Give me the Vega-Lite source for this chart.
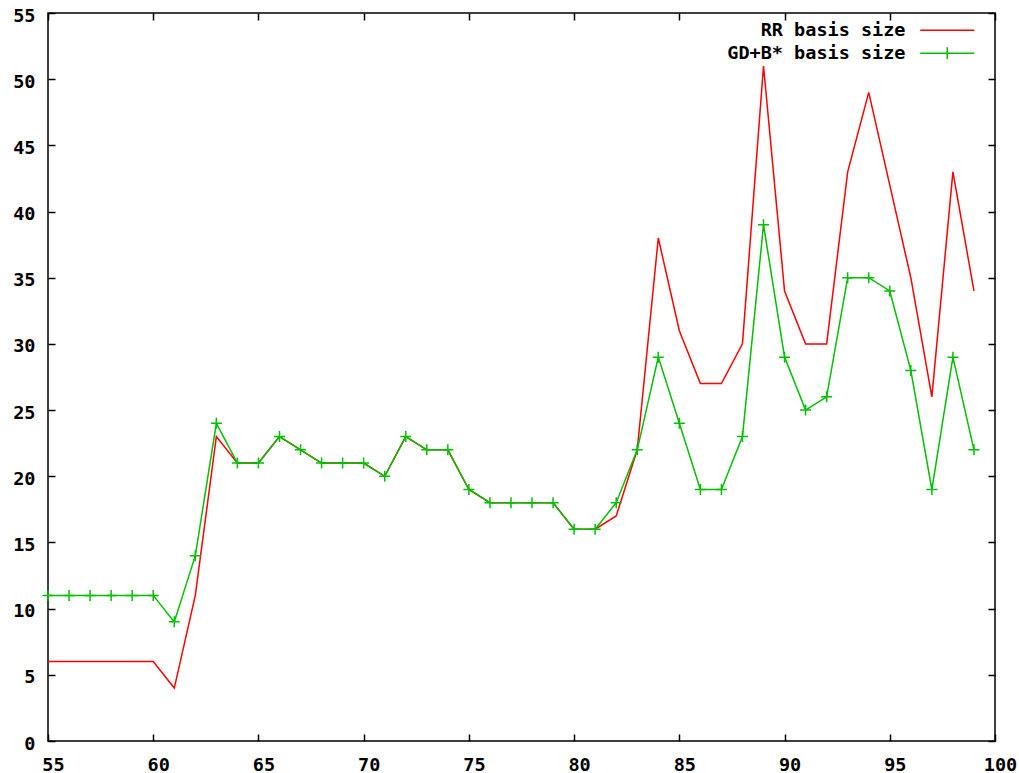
{
  "$schema": "https://vega.github.io/schema/vega-lite/v6.json",
  "width": 947,
  "height": 728,
  "autosize": {"type": "none"},
  "padding": {"left": 48, "top": 13, "right": 24, "bottom": 32},
  "background": "#ffffff",
  "data": {"values": [
    {"n":55,"s":"RR basis size","v":6},{"n":56,"s":"RR basis size","v":6},{"n":57,"s":"RR basis size","v":6},{"n":58,"s":"RR basis size","v":6},{"n":59,"s":"RR basis size","v":6},{"n":60,"s":"RR basis size","v":6},{"n":61,"s":"RR basis size","v":4},{"n":62,"s":"RR basis size","v":11},{"n":63,"s":"RR basis size","v":23},{"n":64,"s":"RR basis size","v":21},{"n":65,"s":"RR basis size","v":21},{"n":66,"s":"RR basis size","v":23},{"n":67,"s":"RR basis size","v":22},{"n":68,"s":"RR basis size","v":21},{"n":69,"s":"RR basis size","v":21},{"n":70,"s":"RR basis size","v":21},{"n":71,"s":"RR basis size","v":20},{"n":72,"s":"RR basis size","v":23},{"n":73,"s":"RR basis size","v":22},{"n":74,"s":"RR basis size","v":22},{"n":75,"s":"RR basis size","v":19},{"n":76,"s":"RR basis size","v":18},{"n":77,"s":"RR basis size","v":18},{"n":78,"s":"RR basis size","v":18},{"n":79,"s":"RR basis size","v":18},{"n":80,"s":"RR basis size","v":16},{"n":81,"s":"RR basis size","v":16},{"n":82,"s":"RR basis size","v":17},{"n":83,"s":"RR basis size","v":22},{"n":84,"s":"RR basis size","v":38},{"n":85,"s":"RR basis size","v":31},{"n":86,"s":"RR basis size","v":27},{"n":87,"s":"RR basis size","v":27},{"n":88,"s":"RR basis size","v":30},{"n":89,"s":"RR basis size","v":51},{"n":90,"s":"RR basis size","v":34},{"n":91,"s":"RR basis size","v":30},{"n":92,"s":"RR basis size","v":30},{"n":93,"s":"RR basis size","v":43},{"n":94,"s":"RR basis size","v":49},{"n":95,"s":"RR basis size","v":42},{"n":96,"s":"RR basis size","v":35},{"n":97,"s":"RR basis size","v":26},{"n":98,"s":"RR basis size","v":43},{"n":99,"s":"RR basis size","v":34},
    {"n":55,"s":"GD+B* basis size","v":11},{"n":56,"s":"GD+B* basis size","v":11},{"n":57,"s":"GD+B* basis size","v":11},{"n":58,"s":"GD+B* basis size","v":11},{"n":59,"s":"GD+B* basis size","v":11},{"n":60,"s":"GD+B* basis size","v":11},{"n":61,"s":"GD+B* basis size","v":9},{"n":62,"s":"GD+B* basis size","v":14},{"n":63,"s":"GD+B* basis size","v":24},{"n":64,"s":"GD+B* basis size","v":21},{"n":65,"s":"GD+B* basis size","v":21},{"n":66,"s":"GD+B* basis size","v":23},{"n":67,"s":"GD+B* basis size","v":22},{"n":68,"s":"GD+B* basis size","v":21},{"n":69,"s":"GD+B* basis size","v":21},{"n":70,"s":"GD+B* basis size","v":21},{"n":71,"s":"GD+B* basis size","v":20},{"n":72,"s":"GD+B* basis size","v":23},{"n":73,"s":"GD+B* basis size","v":22},{"n":74,"s":"GD+B* basis size","v":22},{"n":75,"s":"GD+B* basis size","v":19},{"n":76,"s":"GD+B* basis size","v":18},{"n":77,"s":"GD+B* basis size","v":18},{"n":78,"s":"GD+B* basis size","v":18},{"n":79,"s":"GD+B* basis size","v":18},{"n":80,"s":"GD+B* basis size","v":16},{"n":81,"s":"GD+B* basis size","v":16},{"n":82,"s":"GD+B* basis size","v":18},{"n":83,"s":"GD+B* basis size","v":22},{"n":84,"s":"GD+B* basis size","v":29},{"n":85,"s":"GD+B* basis size","v":24},{"n":86,"s":"GD+B* basis size","v":19},{"n":87,"s":"GD+B* basis size","v":19},{"n":88,"s":"GD+B* basis size","v":23},{"n":89,"s":"GD+B* basis size","v":39},{"n":90,"s":"GD+B* basis size","v":29},{"n":91,"s":"GD+B* basis size","v":25},{"n":92,"s":"GD+B* basis size","v":26},{"n":93,"s":"GD+B* basis size","v":35},{"n":94,"s":"GD+B* basis size","v":35},{"n":95,"s":"GD+B* basis size","v":34},{"n":96,"s":"GD+B* basis size","v":28},{"n":97,"s":"GD+B* basis size","v":19},{"n":98,"s":"GD+B* basis size","v":29},{"n":99,"s":"GD+B* basis size","v":22}
  ]},
  "layer": [
    {
      "transform": [{"filter": "datum.s === 'RR basis size'"}],
      "mark": {"type": "line", "strokeWidth": 1.5},
      "encoding": {
        "x": {"field": "n", "type": "quantitative", "scale": {"domain": [55, 100], "nice": false, "zero": false},
              "axis": {"title": null, "values": [55,60,65,70,75,80,85,90,95,100], "labels": false, "orient": "bottom"}},
        "y": {"field": "v", "type": "quantitative", "scale": {"domain": [0, 55], "nice": false},
              "axis": {"title": null, "values": [0,5,10,15,20,25,30,35,40,45,50,55], "labels": false, "orient": "left"}},
        "color": {"field": "s", "type": "nominal", "scale": {"domain": ["RR basis size", "GD+B* basis size"], "range": ["#ff0000", "#00c000"]}}
      }
    },
    {
      "transform": [{"filter": "datum.s === 'GD+B* basis size'"}],
      "mark": {"type": "line", "strokeWidth": 1.5},
      "encoding": {
        "x": {"field": "n", "type": "quantitative",
              "axis": {"title": null, "values": [55,60,65,70,75,80,85,90,95,100], "ticks": false, "labelPadding": 14, "labelOffset": 5, "labelFlush": false, "orient": "bottom"}},
        "y": {"field": "v", "type": "quantitative",
              "axis": {"title": null, "values": [0,5,10,15,20,25,30,35,40,45,50,55], "ticks": false, "labelPadding": 13, "labelOffset": 2, "labelFlush": false, "orient": "left"}},
        "color": {"field": "s", "type": "nominal"}
      }
    },
    {
      "transform": [{"filter": "datum.s === 'GD+B* basis size'"}],
      "mark": {"type": "point", "shape": "M-1,0H1M0,-1V1", "size": 121, "filled": false, "strokeWidth": 1.5, "opacity": 1},
      "encoding": {
        "x": {"field": "n", "type": "quantitative", "axis": null},
        "y": {"field": "v", "type": "quantitative", "axis": null},
        "color": {"field": "s", "type": "nominal"}
      }
    },
    {
      "mark": {"type": "point", "filled": false, "strokeWidth": 1.5, "opacity": 0, "size": 144},
      "encoding": {
        "x": {"field": "n", "type": "quantitative",
              "axis": {"title": null, "orient": "top", "labels": false, "values": [55,60,65,70,75,80,85,90,95,100]}},
        "y": {"field": "v", "type": "quantitative",
              "axis": {"title": null, "orient": "right", "labels": false, "values": [0,5,10,15,20,25,30,35,40,45,50,55]}},
        "color": {"field": "s", "type": "nominal",
                  "legend": {"title": null, "orient": "none", "legendX": 890, "legendY": 8, "padding": 0,
                             "labelAlign": "right", "labelOffset": -51, "rowPadding": 4,
                             "labelFont": "DejaVu Sans Mono", "labelFontWeight": "bold", "labelFontSize": 18.5, "labelColor": "#000",
                             "symbolSize": 144, "symbolStrokeWidth": 1.5, "symbolFillColor": "transparent", "symbolOpacity": 1, "labelLimit": 400}},
        "shape": {"field": "s", "type": "nominal",
                  "scale": {"domain": ["RR basis size", "GD+B* basis size"], "range": ["M-4.5,0H4.5", "M-4.5,0H4.5M0,-1V1"]},
                  "legend": {"title": null, "orient": "none", "legendX": 890, "legendY": 8, "padding": 0,
                             "labelAlign": "right", "labelOffset": -51, "rowPadding": 4,
                             "labelFont": "DejaVu Sans Mono", "labelFontWeight": "bold", "labelFontSize": 18.5, "labelColor": "#000",
                             "symbolSize": 144, "symbolStrokeWidth": 1.5, "symbolFillColor": "transparent", "symbolOpacity": 1, "labelLimit": 400}}
      }
    }
  ],
  "resolve": {"axis": {"x": "independent", "y": "independent"}},
  "config": {
    "view": {"stroke": "#000000", "strokeWidth": 1.5},
    "axis": {"domain": false, "grid": false, "tickColor": "#000000", "tickWidth": 1.5, "tickSize": -7,
             "labelFont": "DejaVu Sans Mono", "labelFontWeight": "bold", "labelFontSize": 18.5, "labelColor": "#000000"}
  }
}
